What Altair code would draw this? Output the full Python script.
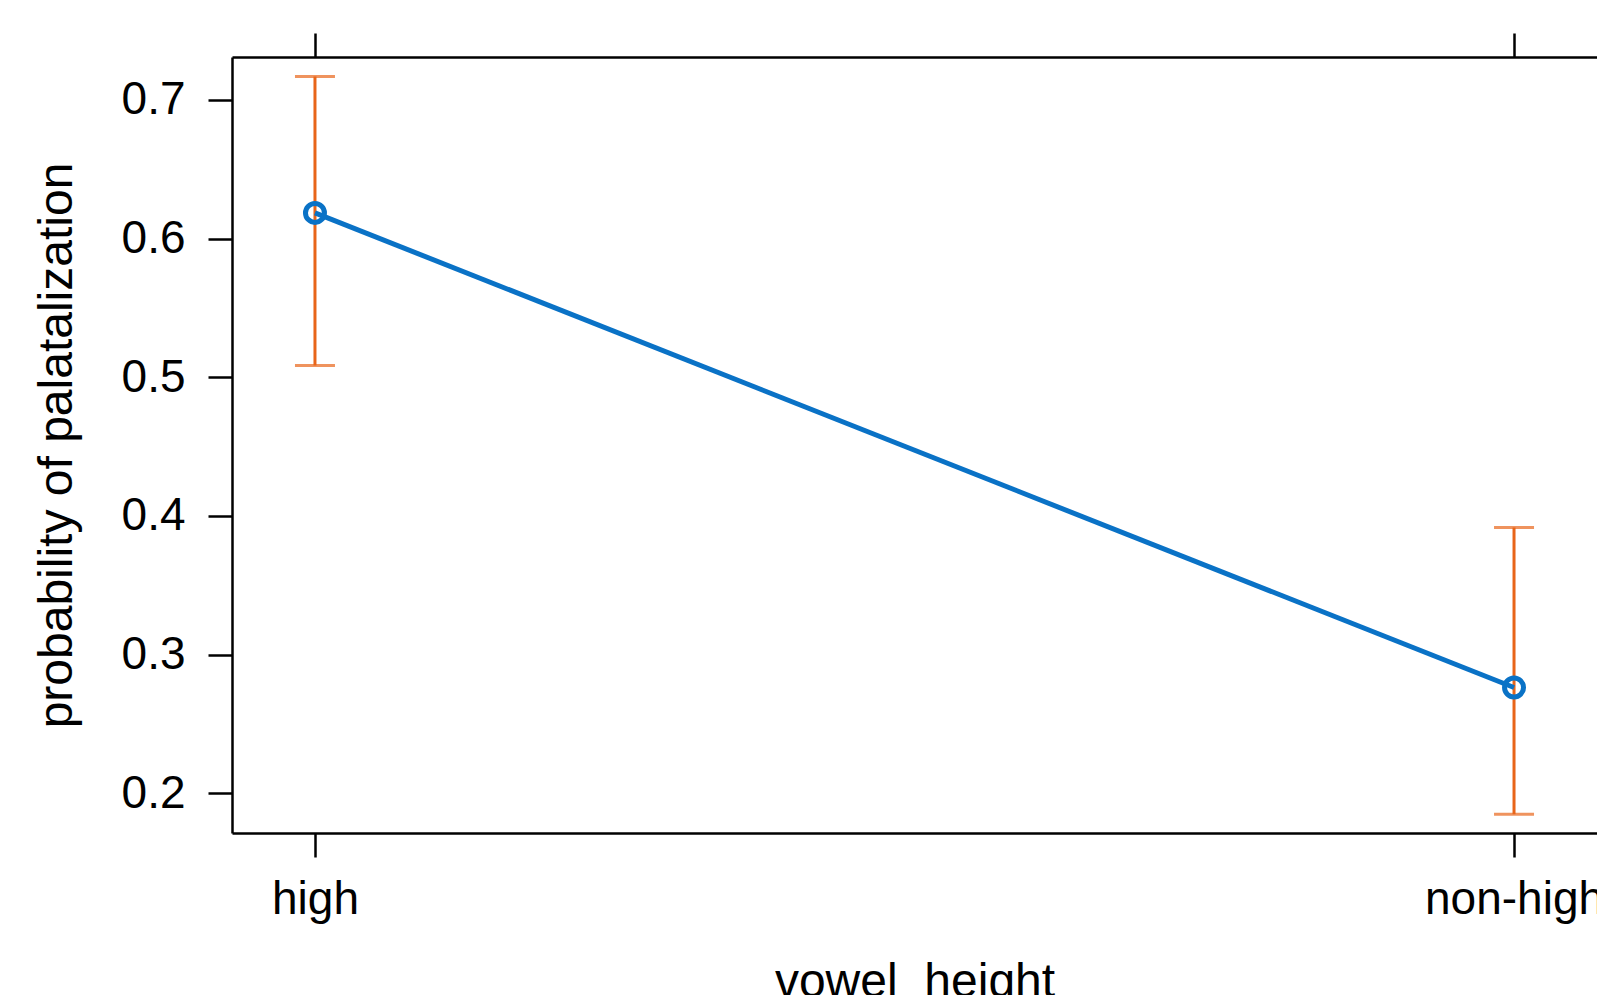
import altair as alt
import pandas as pd

# ---- data ----
categories = ["high", "non-high"]
fit = [0.6185, 0.2763]
lower = [0.5084, 0.1849]
upper = [0.7169, 0.3916]

df = pd.DataFrame({"vowel_height": categories, "fit": fit, "lower": lower, "upper": upper})

FONT = "Liberation Sans"
BLUE = "#0A72C6"
ORANGE = "#E8651A"
AXW = 2.5

xscale = alt.Scale(type="point", domain=categories, padding=0.0692)
yscale = alt.Scale(domain=[0.1714, 0.7309], nice=False, zero=False)

yaxis = alt.Axis(
    values=[0.2, 0.3, 0.4, 0.5, 0.6, 0.7],
    format=".1f",
    grid=False,
    domain=True, domainColor="black", domainWidth=AXW,
    ticks=True, tickColor="black", tickWidth=AXW, tickSize=24,
    labelFont=FONT, labelFontSize=46, labelColor="black", labelPadding=23,
    title="probability of palatalization",
    titleFont=FONT, titleFontSize=48, titleFontWeight="normal", titleColor="black",
    titleX=-161, titleBaseline="alphabetic",
)

xbottom = alt.Axis(
    orient="bottom", grid=False,
    domain=True, domainColor="black", domainWidth=AXW,
    ticks=True, tickColor="black", tickWidth=AXW, tickSize=24,
    labelFont=FONT, labelFontSize=46, labelColor="black", labelPadding=20, labelAngle=0,
    title="vowel_height",
    titleFont=FONT, titleFontSize=48, titleFontWeight="normal", titleColor="black",
    titleY=163, titleBaseline="alphabetic",
)

xtop = alt.Axis(
    orient="top", grid=False,
    domain=True, domainColor="black", domainWidth=AXW,
    ticks=True, tickColor="black", tickWidth=AXW, tickSize=24,
    labels=False, title=None,
)

base = alt.Chart(df)
ytitle = "probability of palatalization"

rule = base.mark_rule(color=ORANGE, strokeWidth=3).encode(
    x=alt.X("vowel_height:N", scale=xscale, axis=xtop),
    y=alt.Y("lower:Q", scale=yscale, axis=yaxis, title=ytitle),
    y2="upper:Q",
)
cap_lo = base.mark_tick(color=ORANGE, thickness=3, size=40, orient="horizontal").encode(
    x=alt.X("vowel_height:N", scale=xscale, axis=None),
    y=alt.Y("lower:Q", scale=yscale, axis=yaxis, title=ytitle),
)
cap_hi = base.mark_tick(color=ORANGE, thickness=3, size=40, orient="horizontal").encode(
    x=alt.X("vowel_height:N", scale=xscale, axis=None),
    y=alt.Y("upper:Q", scale=yscale, axis=yaxis, title=ytitle),
)
line = base.mark_line(color=BLUE, strokeWidth=5).encode(
    x=alt.X("vowel_height:N", scale=xscale, axis=xbottom),
    y=alt.Y("fit:Q", scale=yscale, axis=yaxis, title=ytitle),
)
pts = base.mark_point(color=BLUE, filled=False, size=360, strokeWidth=5, opacity=1).encode(
    x=alt.X("vowel_height:N", scale=xscale, axis=None),
    y=alt.Y("fit:Q", scale=yscale, axis=yaxis, title=ytitle),
)

chart = (
    alt.layer(rule, cap_lo, cap_hi, line, pts)
    .resolve_axis(x="independent")
    .properties(
        width=1365,
        height=776,
        padding={"left": 232, "top": 57, "right": 0, "bottom": 162},
        autosize=alt.AutoSizeParams(type="none"),
        background="white",
    )
    .configure_view(stroke=None)
)

chart.save("out.html", embed_options={"renderer": "svg", "actions": False})
